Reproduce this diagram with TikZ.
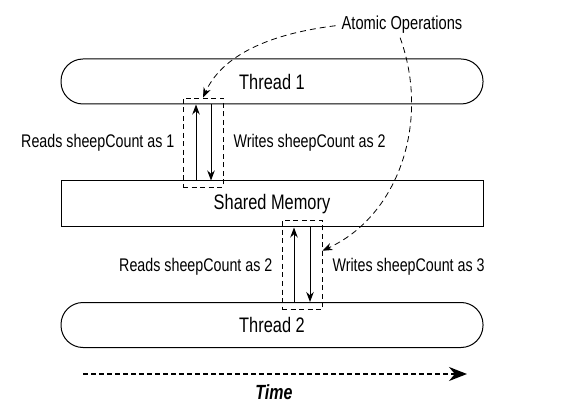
\documentclass[tikz,border=0pt]{standalone}
\usepackage{fontspec}
\setmainfont{Liberation Sans}[FakeStretch=0.78]
\usetikzlibrary{arrows.meta, positioning}
\begin{document}
\begin{tikzpicture}[x=1pt, y=-1pt,
    thread/.style={draw, line width=1pt, rounded corners=22pt, minimum width=422pt, minimum height=45pt, inner sep=0pt, font=\fontsize{21}{24}\selectfont},
    memory/.style={draw, line width=1pt, minimum width=422pt, minimum height=46pt, inner sep=0pt, font=\fontsize{21}{24}\selectfont},
    atomic/.style={draw, dash pattern=on 5pt off 3.5pt, line width=0.8pt, minimum width=40pt, minimum height=89pt, inner sep=0pt},
    msg/.style={inner sep=0pt, font=\fontsize{18.3}{21}\selectfont},
    flow/.style={line width=1pt, -{Stealth[length=10pt, width=7.5pt]}},
    note/.style={dash pattern=on 6pt off 4pt, line width=0.8pt, -{Stealth[length=10pt, width=7.5pt]}}]
\useasboundingbox (0,0) rectangle (564,411);
\node [thread] (t1) at (272,81.5) {Thread 1};
\node [memory] (mem) at (272,204) {Shared Memory};
\node [thread] (t2) at (272,325) {Thread 2};
\node [atomic] (box1) at (203,142.5) {};
\node [atomic] (box2) at (302,265) {};
\coordinate (up1) at (196,0);
\coordinate (dn1) at (211,0);
\coordinate (up2) at (294,0);
\coordinate (dn2) at (310,0);
\draw [flow] (mem.north -| up1) -- (t1.south -| up1);
\draw [flow] (t1.south -| dn1) -- (mem.north -| dn1);
\draw [flow] (t2.north -| up2) -- (mem.south -| up2);
\draw [flow] (mem.south -| dn2) -- (t2.north -| dn2);
\node [msg, left=8pt of box1] (rd1) {Reads sheepCount as 1};
\node [msg, right=10pt of box1] (wr1) {Writes sheepCount as 2};
\node [msg, left=9pt of box2, yshift=-2pt] (rd2) {Reads sheepCount as 2};
\node [msg, right=10pt of box2, yshift=-2pt] (wr2) {Writes sheepCount as 3};
\node [msg, font=\fontsize{18.8}{21}\selectfont] (ops) at (402,25) {Atomic Operations};
\draw [note, shorten <=6pt] (ops.west) .. controls (260,35) and (220,60) .. (box1.north);
\draw [note, shorten <=4pt] (ops.-110) .. controls (430,120) and (400,215) .. (box2.35);
\coordinate (ts) at (83,374);
\coordinate (te) at (467,374);
\draw [line width=1.8pt, dash pattern=on 5pt off 3pt, -{Stealth[length=18pt, width=14pt]}] (ts) -- (te);
\node [font=\fontsize{20.5}{23}\selectfont\bfseries\itshape] (time) at (274,392) {Time};
\end{tikzpicture}
\end{document}
